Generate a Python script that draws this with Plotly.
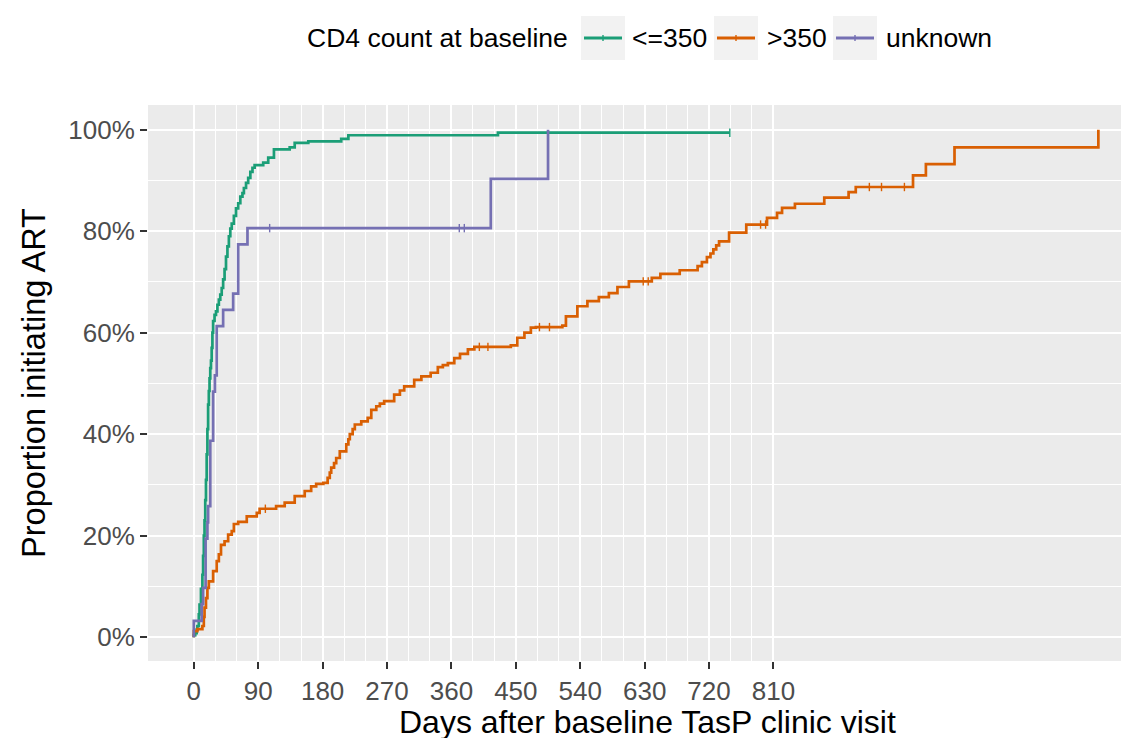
import plotly.graph_objects as go

# ---- data ----
groups = ["<=350", ">350", "unknown"]
colors = ["#1B9E77", "#D95F02", "#7570B3"]
legend_title = "CD4 count at baseline"
x_title = "Days after baseline TasP clinic visit"
y_title = "Proportion initiating ART"

low_days = [0, 0, 2, 4, 5, 7, 8, 10, 12, 13, 14, 15, 16, 17, 18, 19, 20, 21, 22, 23, 24, 25, 26, 27,
            29, 31, 33, 35, 37, 39, 41, 43, 45, 47, 49, 51, 53, 56, 59, 62, 65, 68, 70, 73, 76, 79,
            82, 85, 97, 104, 112, 134, 141, 160, 206, 216, 425, 749]
low_pct = [0, 0.4, 0.8, 1.5, 2.2, 4.5, 6.4, 9.5, 12.3, 16, 20, 23, 27, 31, 36, 41, 45.8, 48.5, 51, 53,
           54.5, 57, 60, 62.3, 63.5, 64.2, 65.5, 66.5, 67.5, 68.8, 70.5, 72.5, 75, 77, 79, 80.5, 81.5,
           83, 84.5, 85.5, 86.8, 87.5, 88.5, 89.5, 90.5, 91.7, 92.5, 93.0, 93.5, 94.5, 96.1, 96.5, 97.4,
           97.7, 98.2, 98.9, 99.4, 99.4]

high_days = [0, 0, 5, 12, 14, 15, 17, 19, 21, 27, 32, 35, 38, 43, 48, 53, 56, 62, 74, 88, 92, 115, 127,
             141, 155, 164, 171, 181, 187, 190, 192, 196, 199, 204, 213, 216, 218, 222, 225, 234, 243,
             248, 255, 260, 266, 280, 288, 294, 308, 318, 331, 341, 348, 355, 364, 372, 383, 392, 443,
             452, 462, 471, 478, 515, 520, 536, 550, 566, 580, 592, 608, 640, 652, 679, 704, 710, 717,
             722, 726, 730, 734, 748, 772, 801, 815, 822, 840, 881, 915, 925, 1005, 1023, 1063, 1264]
high_pct = [0, 1.2, 1.6, 2.2, 4.0, 5.8, 7.7, 9.7, 11.0, 13.0, 15.0, 16.3, 18.2, 18.9, 20.2, 20.9, 22.3,
            22.7, 23.8, 24.5, 25.3, 25.8, 26.5, 27.8, 28.8, 29.7, 30.2, 30.4, 31.4, 32.4, 33.4, 34.3,
            35.3, 36.6, 38.0, 39.0, 40.0, 41.0, 41.9, 42.5, 43.2, 44.8, 45.5, 46.0, 46.5, 47.8, 48.6,
            49.4, 50.7, 51.4, 52.1, 53.2, 53.6, 54.0, 55.0, 55.8, 56.7, 57.2, 57.5, 59.0, 60.0, 61.0,
            61.1, 61.4, 63.2, 65.2, 66.2, 67.0, 67.8, 69.0, 70.1, 70.8, 71.6, 72.3, 73.1, 73.9, 74.9,
            75.6, 76.4, 77.2, 78.0, 79.7, 81.3, 82.6, 83.6, 84.6, 85.4, 86.6, 87.7, 88.7, 91.0, 93.2,
            96.5, 100]

unk_days = [0, 0, 11, 13, 16.5, 19, 20, 23, 27, 29.5, 32, 41, 55, 62, 75, 415, 495]
unk_pct = [0, 3.2, 6.5, 9.7, 19.4, 22.6, 25.8, 38.7, 48.4, 51.6, 61.3, 64.5, 67.7, 77.4, 80.6, 90.3, 100]

# censoring marks
low_cens_days = [749]
low_cens_pct = [99.4]
high_cens_days = [100, 399, 411, 483, 497, 628, 635, 792, 799, 944, 961, 993]
high_cens_pct = [25.3, 57.2, 57.2, 61.1, 61.1, 70.1, 70.1, 81.3, 81.3, 88.7, 88.7, 88.7]
unk_cens_days = [106, 371, 378]
unk_cens_pct = [80.6, 80.6, 80.6]

x_ticks = [0, 90, 180, 270, 360, 450, 540, 630, 720, 810]
x_minor = [30, 60, 120, 150, 210, 240, 300, 330, 390, 420, 480, 510, 570, 600, 660, 690, 750, 780]
y_ticks = [0, 0.2, 0.4, 0.6, 0.8, 1.0]
y_ticklabels = ["0%", "20%", "40%", "60%", "80%", "100%"]
y_minor = [0.1, 0.3, 0.5, 0.7, 0.9]

series = [
    (low_days, low_pct, low_cens_days, low_cens_pct),
    (high_days, high_pct, high_cens_days, high_cens_pct),
    (unk_days, unk_pct, unk_cens_days, unk_cens_pct),
]

FONT = "Liberation Sans, Arial, sans-serif"
W, H = 1129, 738
ML, MR, MT, MB = 140, 0, 97, 85
PW, PH = W - ML - MR, H - MT - MB


def px(x):
    return (x - ML) / PW


def py(y):
    return (H - MB - y) / PH


fig = go.Figure()
for name, col, (d, p, cd, cp) in zip(groups, colors, series):
    fig.add_trace(go.Scatter(
        x=d, y=[v / 100 for v in p], mode="lines", name=name,
        line=dict(color=col, width=2.7, shape="hv"), legendgroup=name,
    ))
    fig.add_trace(go.Scatter(
        x=cd, y=[v / 100 for v in cp], mode="markers", showlegend=False, legendgroup=name,
        marker=dict(symbol="line-ns", size=6, color=col, line=dict(color=col, width=1.4)),
        hoverinfo="skip",
    ))

# ---- legend drawn at the top (ggplot style keys with grey background) ----
shapes = []
annotations = []
LEG_Y = 30
annotations.append(dict(text=legend_title, x=px(297), y=py(LEG_Y), xref="paper", yref="paper",
                        xanchor="left", yanchor="middle", showarrow=False,
                        font=dict(size=26.5, color="black", family=FONT)))
key_left = [573, 706, 825]
label_left = [622, 757, 876]
for name, col, kx, lx in zip(groups, colors, key_left, label_left):
    shapes.append(dict(type="rect", xref="paper", yref="paper", x0=px(kx), x1=px(kx + 44),
                       y0=py(LEG_Y + 22), y1=py(LEG_Y - 22), fillcolor="#F2F2F2", line=dict(width=0),
                       layer="above"))
    shapes.append(dict(type="line", xref="paper", yref="paper", x0=px(kx + 3), x1=px(kx + 41),
                       y0=py(LEG_Y), y1=py(LEG_Y), line=dict(color=col, width=3), layer="above"))
    shapes.append(dict(type="line", xref="paper", yref="paper", x0=px(kx + 22), x1=px(kx + 22),
                       y0=py(LEG_Y - 3), y1=py(LEG_Y + 3), line=dict(color=col, width=1.4), layer="above"))
    annotations.append(dict(text=name, x=px(lx), y=py(LEG_Y), xref="paper", yref="paper",
                            xanchor="left", yanchor="middle", showarrow=False,
                            font=dict(size=26.5, color="black", family=FONT)))

# x-axis title placed precisely below the tick labels
annotations.append(dict(text=x_title, x=px(639), y=py(714), xref="paper", yref="paper",
                        xanchor="center", yanchor="middle", showarrow=False, borderpad=0,
                        font=dict(size=32, color="black", family=FONT)))

fig.update_layout(
    width=W, height=H,
    paper_bgcolor="white", plot_bgcolor="#EBEBEB",
    margin=dict(l=ML, r=MR, t=MT, b=MB, autoexpand=False),
    font=dict(family=FONT, color="black"),
    showlegend=False,
    shapes=shapes,
    annotations=annotations,
)

fig.update_xaxes(
    range=[-64, 1318], tickmode="array", tickvals=x_ticks, ticktext=[str(v) for v in x_ticks],
    showgrid=True, gridcolor="white", gridwidth=2.4, zeroline=False,
    ticks="outside", ticklen=7, tickwidth=1.5, tickcolor="#333333",
    tickfont=dict(size=26, color="#4D4D4D", family=FONT),
    minor=dict(tickmode="array", tickvals=x_minor, showgrid=True, gridcolor="white", gridwidth=1.2, ticks=""),
    showline=False, automargin=False,
)
fig.update_yaxes(
    range=[-0.047, 1.0486], tickmode="array", tickvals=y_ticks, ticktext=y_ticklabels,
    showgrid=True, gridcolor="white", gridwidth=2.4, zeroline=False,
    ticks="outside", ticklen=7, tickwidth=1.5, tickcolor="#333333",
    tickfont=dict(size=26, color="#4D4D4D", family=FONT),
    minor=dict(tickmode="array", tickvals=y_minor, showgrid=True, gridcolor="white", gridwidth=1.2, ticks=""),
    title=dict(text=y_title, font=dict(size=32.5, color="black"), standoff=12),
    showline=False, automargin=False,
)

fig.write_html("out.html")
